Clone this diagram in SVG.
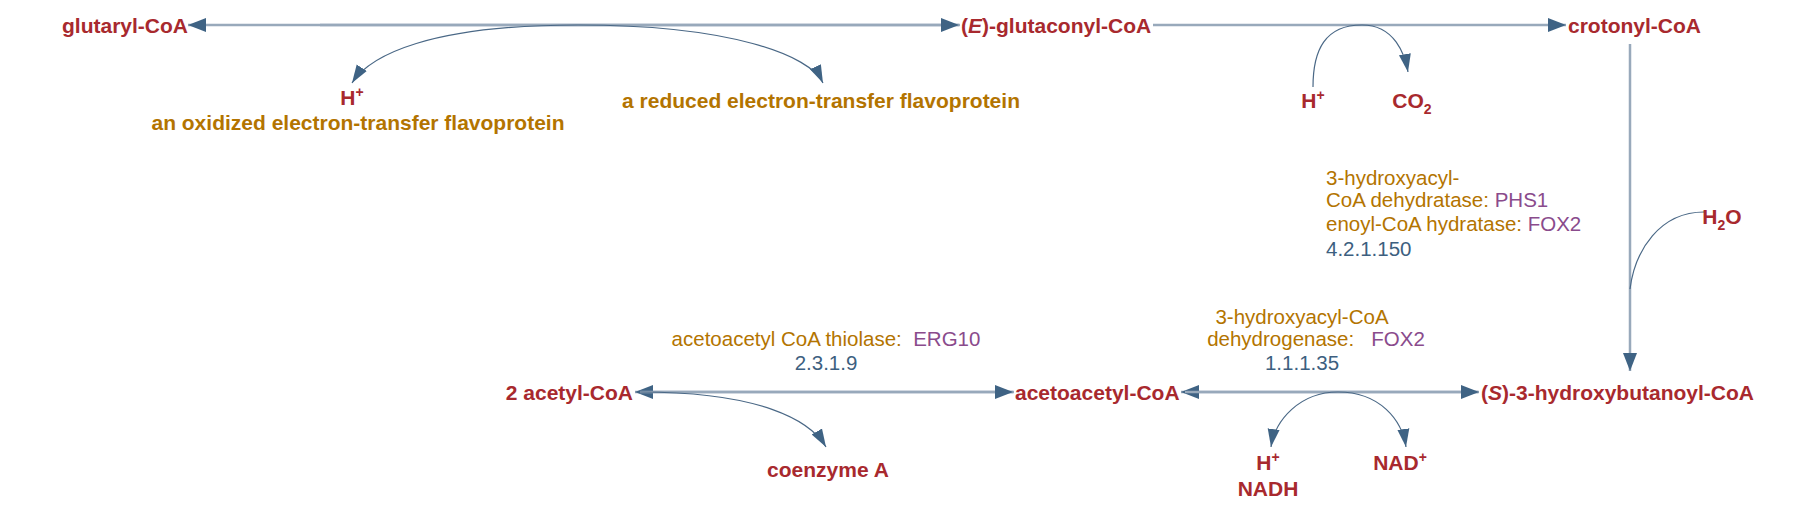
<svg xmlns="http://www.w3.org/2000/svg" width="1812" height="508" viewBox="0 0 1812 508">
<style>
.c{font-family:"Liberation Sans",Arial,sans-serif;font-weight:bold;font-size:21px;fill:#a8292e}
.o{font-family:"Liberation Sans",Arial,sans-serif;font-weight:bold;font-size:21px;fill:#b37400}
.e{font-family:"Liberation Sans",Arial,sans-serif;font-size:20.5px;fill:#b37400}
.p{fill:#8a4b8c}
.n{font-family:"Liberation Sans",Arial,sans-serif;font-size:20.5px;fill:#3d5f80}
.m{stroke:#98a9bb;stroke-width:2.5;fill:none}
.s{stroke:#4a6886;stroke-width:1.2;fill:none}
</style>
<defs>
<marker id="a" markerUnits="userSpaceOnUse" markerWidth="20" markerHeight="14" refX="18" refY="7" orient="auto"><path d="M0,0L18,7L0,14Z" fill="#3f6384"/></marker>
<marker id="b" markerUnits="userSpaceOnUse" markerWidth="20" markerHeight="14" refX="18" refY="7" orient="auto"><path d="M0,1L18,7L0,13Z" fill="#3f6384"/></marker>
</defs>
<g id="connectors">
<path class="m" d="M960,25H188" marker-end="url(#a)"/>
<path class="m" d="M320,25H959" marker-end="url(#a)"/>
<path class="m" d="M1153,25H1566" marker-end="url(#a)"/>
<path class="s" d="M578,25C430,25 370,55 352,83" marker-end="url(#b)"/>
<path class="s" d="M578,25C730,25 810,55 823,83" marker-end="url(#b)"/>
<path class="s" d="M1313,87C1313,50 1325,25 1362,25C1395,25 1405,55 1408,72" marker-end="url(#b)"/>
<path class="m" d="M1630,44V371" marker-end="url(#a)"/>
<path class="s" d="M1704,212C1660,212 1635,250 1630,289"/>
<path class="m" d="M1014,392H635" marker-end="url(#a)"/>
<path class="m" d="M640,392H1013" marker-end="url(#a)"/>
<path class="m" d="M1478,392H1181" marker-end="url(#a)"/>
<path class="m" d="M1185,392H1479" marker-end="url(#a)"/>
<path class="s" d="M640,392C760,392 810,420 826,447" marker-end="url(#b)"/>
<path class="s" d="M1338,392C1300,392 1275,420 1271,447" marker-end="url(#b)"/>
<path class="s" d="M1338,392C1380,392 1402,420 1406,447" marker-end="url(#b)"/>
</g>
<g id="glutaryl-CoA"><text class="c" x="188" y="33" text-anchor="end">glutaryl-CoA</text></g>
<g id="glutaconyl-CoA"><text class="c" x="961" y="33">(<tspan font-style="italic">E</tspan>)-glutaconyl-CoA</text></g>
<g id="crotonyl-CoA"><text class="c" x="1568" y="33">crotonyl-CoA</text></g>
<g id="H1"><text class="c" x="352" y="105" text-anchor="middle">H<tspan font-size="14" dy="-8">+</tspan></text></g>
<g id="oxETF"><text class="o" x="358" y="130" text-anchor="middle">an oxidized electron-transfer flavoprotein</text></g>
<g id="redETF"><text class="o" x="821" y="108" text-anchor="middle">a reduced electron-transfer flavoprotein</text></g>
<g id="H2"><text class="c" x="1313" y="108" text-anchor="middle">H<tspan font-size="14" dy="-8">+</tspan></text></g>
<g id="CO2"><text class="c" x="1412" y="108" text-anchor="middle">CO<tspan font-size="14" dy="6">2</tspan></text></g>
<g id="H2O"><text class="c" x="1722" y="224" text-anchor="middle">H<tspan font-size="14" dy="6">2</tspan><tspan dy="-6">O</tspan></text></g>
<g id="enz1">
<text class="e" x="1326" y="185">3-hydroxyacyl-</text>
<text class="e" x="1326" y="207">CoA dehydratase: <tspan class="p">PHS1</tspan></text>
<text class="e" x="1326" y="231">enoyl-CoA hydratase: <tspan class="p">FOX2</tspan></text>
<text class="n" x="1326" y="256">4.2.1.150</text>
</g>
<g id="enz2">
<text class="e" x="826" y="346" text-anchor="middle" xml:space="preserve">acetoacetyl CoA thiolase:  <tspan class="p">ERG10</tspan></text>
<text class="n" x="826" y="370" text-anchor="middle">2.3.1.9</text>
</g>
<g id="enz3">
<text class="e" x="1302" y="324" text-anchor="middle">3-hydroxyacyl-CoA</text>
<text class="e" x="1316" y="346" text-anchor="middle" xml:space="preserve">dehydrogenase:   <tspan class="p">FOX2</tspan></text>
<text class="n" x="1302" y="370" text-anchor="middle">1.1.1.35</text>
</g>
<g id="acetyl-CoA"><text class="c" x="633" y="400" text-anchor="end">2 acetyl-CoA</text></g>
<g id="acetoacetyl-CoA"><text class="c" x="1015" y="400">acetoacetyl-CoA</text></g>
<g id="hydroxybutanoyl-CoA"><text class="c" x="1481" y="400">(<tspan font-style="italic">S</tspan>)-3-hydroxybutanoyl-CoA</text></g>
<g id="coenzymeA"><text class="c" x="828" y="477" text-anchor="middle">coenzyme A</text></g>
<g id="H3"><text class="c" x="1268" y="470" text-anchor="middle">H<tspan font-size="14" dy="-8">+</tspan></text></g>
<g id="NADH"><text class="c" x="1268" y="496" text-anchor="middle">NADH</text></g>
<g id="NAD"><text class="c" x="1400" y="470" text-anchor="middle">NAD<tspan font-size="14" dy="-8">+</tspan></text></g>
</svg>
